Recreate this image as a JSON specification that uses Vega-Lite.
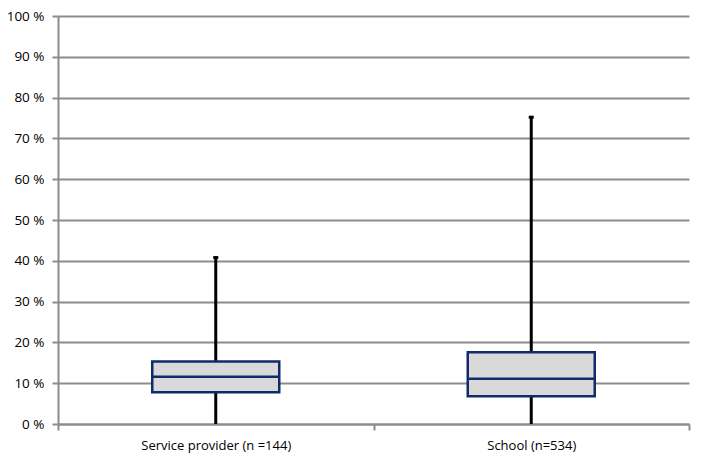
{
  "$schema": "https://vega.github.io/schema/vega-lite/v6.json",
  "width": 631,
  "height": 408,
  "autosize": "none",
  "padding": {"left": 58, "top": 16, "right": 20, "bottom": 43},
  "background": "white",
  "data": {
    "values": [
      {"group": "Service provider (n =144)", "min": 0, "q1": 7.8, "median": 11.6, "q3": 15.3, "max": 40.8},
      {"group": "School (n=534)", "min": 0, "q1": 6.8, "median": 11.1, "q3": 17.6, "max": 75.2}
    ]
  },
  "encoding": {
    "x": {
      "field": "group",
      "type": "nominal",
      "sort": null,
      "scale": {"paddingInner": 0, "paddingOuter": 0},
      "axis": {
        "title": null,
        "labelAngle": 0,
        "labelFont": "Open Sans",
        "labelFontSize": 13,
        "labelColor": "#000000",
        "labelPadding": 9,
        "tickBand": "extent",
        "tickColor": "#8c8c8c",
        "tickWidth": 2,
        "tickSize": 6,
        "domainColor": "#8c8c8c",
        "domainWidth": 2,
        "grid": false
      }
    }
  },
  "layer": [
    {
      "mark": {"type": "rule", "color": "#000000", "strokeWidth": 3},
      "encoding": {
        "y": {
          "field": "min",
          "type": "quantitative",
          "scale": {"domain": [0, 100], "nice": false},
          "axis": {
            "title": null,
            "values": [0, 10, 20, 30, 40, 50, 60, 70, 80, 90, 100],
            "labelExpr": "datum.value + ' %'",
            "labelFont": "Open Sans",
            "labelFontSize": 13.5,
            "labelColor": "#000000",
            "labelPadding": 8,
            "tickColor": "#8c8c8c",
            "tickWidth": 2,
            "tickSize": 6,
            "domainColor": "#8c8c8c",
            "domainWidth": 2,
            "grid": true,
            "gridColor": "#8c8c8c",
            "gridWidth": 2
          }
        },
        "y2": {"field": "max"}
      }
    },
    {
      "mark": {"type": "tick", "color": "#000000", "thickness": 3, "size": 5, "opacity": 1},
      "encoding": {
        "y": {"field": "max", "type": "quantitative"}
      }
    },
    {
      "mark": {"type": "bar", "fill": "#d9d9d9", "stroke": "#102a6b", "strokeWidth": 2.5, "width": 127},
      "encoding": {
        "y": {"field": "q1", "type": "quantitative"},
        "y2": {"field": "q3"}
      }
    },
    {
      "mark": {"type": "tick", "color": "#102a6b", "thickness": 2.5, "size": 127, "opacity": 1},
      "encoding": {
        "y": {"field": "median", "type": "quantitative"}
      }
    }
  ],
  "config": {
    "view": {"stroke": null}
  }
}
